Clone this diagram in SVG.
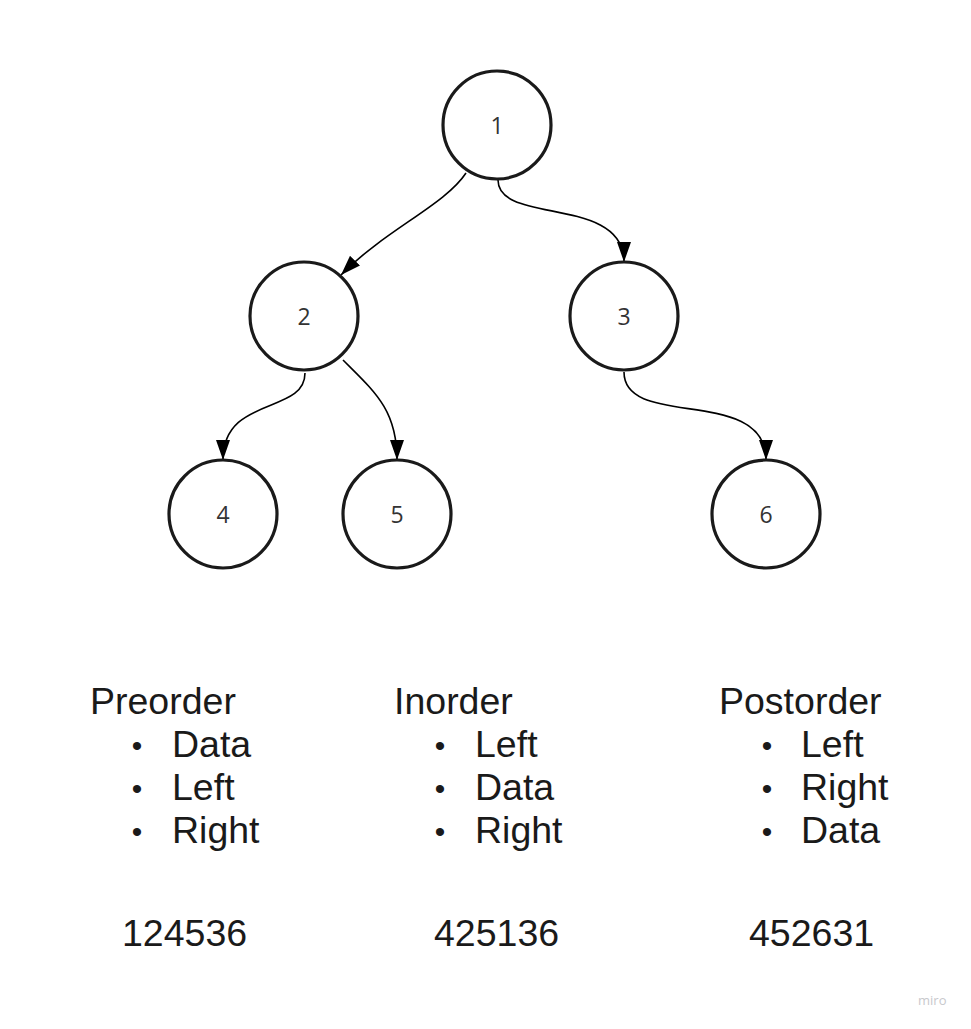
<svg xmlns="http://www.w3.org/2000/svg" width="971" height="1029" viewBox="0 0 971 1029">
<style>
.node circle{fill:#fff;stroke:#1a1a1a;stroke-width:3.2}
.node text{font-family:"Open Sans","Noto Sans",sans-serif;font-size:23px;fill:#333;text-anchor:middle;dominant-baseline:central}
.edge{fill:none;stroke:#000;stroke-width:1.6;marker-end:url(#arr)}
.t{font-family:"Liberation Sans",Arial,sans-serif;font-size:37.5px;fill:#1a1a1a}
.b{font-family:"Liberation Sans",Arial,sans-serif;font-size:30px;fill:#1a1a1a;text-anchor:middle}
</style>
<defs>
<marker id="arr" markerUnits="userSpaceOnUse" markerWidth="20" markerHeight="14" refX="20" refY="7" orient="auto" viewBox="0 0 20 14">
<path d="M0,0 L20,7 L0,14 z" fill="#000"/>
</marker>
</defs>
<rect width="971" height="1029" fill="#fff"/>
<g id="connectors">
<path class="edge" d="M466,173 C445,205 385,230 341,275"/>
<path class="edge" d="M498,180 C498,225 624,195 624,262"/>
<path class="edge" d="M305,373 C305,415 223,395 223,460"/>
<path class="edge" d="M343,360 C375,392 397,410 397,460"/>
<path class="edge" d="M624,372 C624,430 766,385 766,460"/>
</g>
<g id="n1" class="node"><circle cx="497" cy="125" r="54"/><text x="497" y="125">1</text></g>
<g id="n2" class="node"><circle cx="304" cy="316" r="54"/><text x="304" y="316">2</text></g>
<g id="n3" class="node"><circle cx="624" cy="316" r="54"/><text x="624" y="316">3</text></g>
<g id="n4" class="node"><circle cx="223" cy="514" r="54"/><text x="223" y="514">4</text></g>
<g id="n5" class="node"><circle cx="397" cy="514" r="54"/><text x="397" y="514">5</text></g>
<g id="n6" class="node"><circle cx="766" cy="514" r="54"/><text x="766" y="514">6</text></g>
<g id="preorder">
<text class="t" x="90" y="714">Preorder</text>
<text class="b" x="137" y="756">•</text><text class="t" x="172" y="757">Data</text>
<text class="b" x="137" y="799">•</text><text class="t" x="172" y="800">Left</text>
<text class="b" x="137" y="842">•</text><text class="t" x="172" y="843">Right</text>
<text class="t" x="122" y="946">124536</text>
</g>
<g id="inorder">
<text class="t" x="394" y="714">Inorder</text>
<text class="b" x="440" y="756">•</text><text class="t" x="475" y="757">Left</text>
<text class="b" x="440" y="799">•</text><text class="t" x="475" y="800">Data</text>
<text class="b" x="440" y="842">•</text><text class="t" x="475" y="843">Right</text>
<text class="t" x="434" y="946">425136</text>
</g>
<g id="postorder">
<text class="t" x="719" y="714">Postorder</text>
<text class="b" x="767" y="756">•</text><text class="t" x="801" y="757">Left</text>
<text class="b" x="767" y="799">•</text><text class="t" x="801" y="800">Right</text>
<text class="b" x="767" y="842">•</text><text class="t" x="801" y="843">Data</text>
<text class="t" x="749" y="946">452631</text>
</g>
<text x="918" y="1005" font-family="'Open Sans',sans-serif" font-size="13" fill="#c8c8cc">miro</text>
</svg>
